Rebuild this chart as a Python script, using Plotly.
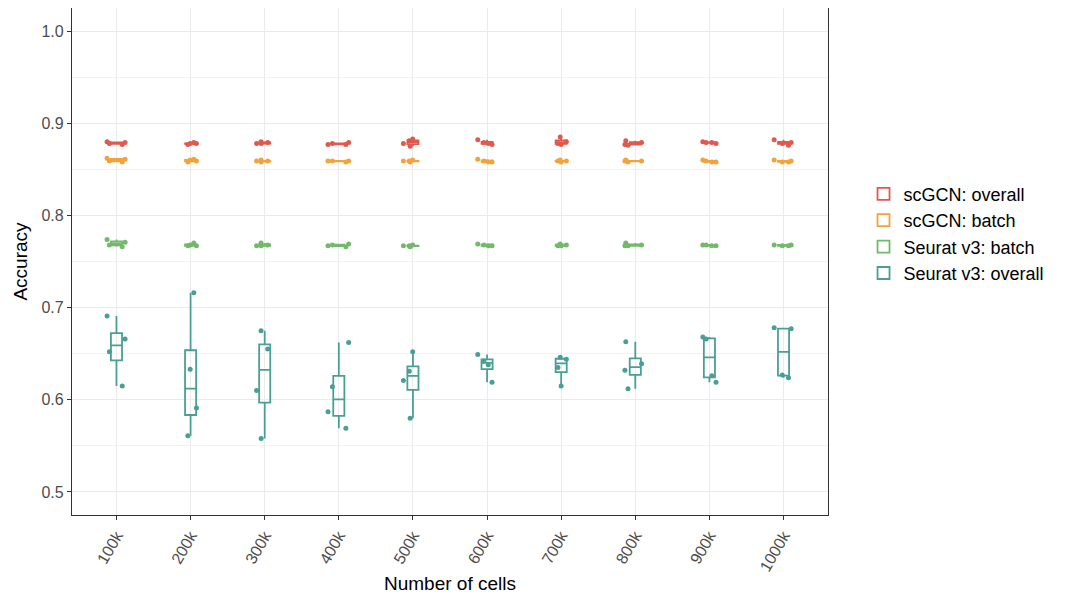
import numpy as np
import plotly.graph_objects as go

categories = ["100k", "200k", "300k", "400k", "500k", "600k", "700k", "800k", "900k", "1000k"]

scgcn_overall = [
    [0.880, 0.879, 0.878, 0.877], [0.878, 0.877, 0.878, 0.879], [0.880, 0.879, 0.878, 0.878],
    [0.879, 0.878, 0.877, 0.877], [0.883, 0.881, 0.878, 0.875], [0.882, 0.879, 0.878, 0.877],
    [0.885, 0.880, 0.878, 0.877], [0.881, 0.879, 0.877, 0.876], [0.880, 0.879, 0.879, 0.878],
    [0.882, 0.879, 0.878, 0.876],
]
scgcn_batch = [
    [0.862, 0.861, 0.859, 0.858], [0.861, 0.860, 0.859, 0.858], [0.860, 0.859, 0.859, 0.858],
    [0.859, 0.859, 0.858, 0.859], [0.860, 0.859, 0.858, 0.859], [0.861, 0.859, 0.858, 0.858],
    [0.860, 0.859, 0.858, 0.859], [0.860, 0.859, 0.859, 0.858], [0.860, 0.859, 0.858, 0.858],
    [0.860, 0.859, 0.858, 0.858],
]
seurat_batch = [
    [0.774, 0.771, 0.768, 0.766], [0.770, 0.768, 0.767, 0.767], [0.770, 0.768, 0.767, 0.767],
    [0.769, 0.768, 0.767, 0.766], [0.768, 0.767, 0.766, 0.767], [0.769, 0.768, 0.767, 0.767],
    [0.769, 0.768, 0.767, 0.767], [0.770, 0.768, 0.767, 0.767], [0.768, 0.767, 0.768, 0.767],
    [0.768, 0.768, 0.767, 0.767],
]
seurat_overall = [
    [0.691, 0.666, 0.652, 0.615], [0.716, 0.633, 0.591, 0.561], [0.675, 0.655, 0.610, 0.558],
    [0.662, 0.614, 0.587, 0.569], [0.652, 0.631, 0.621, 0.580], [0.649, 0.642, 0.638, 0.619],
    [0.646, 0.644, 0.635, 0.615], [0.663, 0.639, 0.632, 0.612], [0.668, 0.666, 0.626, 0.619],
    [0.678, 0.677, 0.627, 0.624],
]

series = [
    ("scGCN: overall", scgcn_overall, "#E0594F"),
    ("scGCN: batch", scgcn_batch, "#F2A33B"),
    ("Seurat v3: batch", seurat_batch, "#73B96B"),
    ("Seurat v3: overall", seurat_overall, "#4A9F95"),
]


def stats(vals):
    v = np.sort(np.asarray(vals, dtype=float))
    q1, med, q3 = np.percentile(v, [25, 50, 75])
    iqr = q3 - q1
    lo = v[v >= q1 - 1.5 * iqr].min()
    hi = v[v <= q3 + 1.5 * iqr].max()
    return q1, med, q3, lo, hi


fig = go.Figure()
for name, data, color in series:
    st = [stats(d) for d in data]
    fig.add_trace(go.Box(
        name=name, x=categories,
        q1=[s[0] for s in st], median=[s[1] for s in st], q3=[s[2] for s in st],
        lowerfence=[s[3] for s in st], upperfence=[s[4] for s in st],
        line=dict(color=color, width=1.8), fillcolor="rgba(255,255,255,0)",
        width=0.15, whiskerwidth=0, boxpoints=False, legendgroup=name,
    ))
for name, data, color in series:
    xs, ys = [], []
    for c, d in zip(categories, data):
        xs += [c] * len(d)
        ys += list(d)
    fig.add_trace(go.Box(
        name=name, x=xs, y=ys, boxpoints="all", jitter=1, pointpos=0,
        width=0.3, line=dict(color="rgba(0,0,0,0)", width=0),
        fillcolor="rgba(0,0,0,0)", marker=dict(color=color, size=5),
        showlegend=False, legendgroup=name, hoverinfo="y",
    ))

fig.update_layout(
    width=1069, height=587, boxmode="overlay",
    paper_bgcolor="white", plot_bgcolor="white",
    margin=dict(l=64, r=249, t=0, b=80),
    font=dict(family="Liberation Sans, Arial, sans-serif", color="#000000"),
    legend=dict(x=1.047, y=0.555, yanchor="middle", xanchor="left",
                font=dict(size=18, color="#000000"), tracegroupgap=0,
                itemwidth=30, bgcolor="rgba(0,0,0,0)"),
    showlegend=True,
)
fig.update_xaxes(
    type="category", categoryorder="array", categoryarray=categories,
    range=[-0.6, 9.6], tickangle=-60,
    tickfont=dict(size=16, color="#4D4D4D"),
    ticks="outside", ticklen=4, tickcolor="#333333", tickwidth=1.2,
    showgrid=True, gridcolor="#EBEBEB", gridwidth=1.2,
    showline=True, linecolor="#333333", linewidth=1.2, mirror=True,
    zeroline=False,
    title=dict(text="Number of cells", font=dict(size=19, color="#000000"), standoff=3),
)
fig.update_yaxes(
    range=[0.475, 1.025], tickvals=[0.5, 0.6, 0.7, 0.8, 0.9, 1.0],
    ticktext=["0.5", "0.6", "0.7", "0.8", "0.9", "1.0"],
    tickfont=dict(size=16, color="#4D4D4D"),
    ticks="outside", ticklen=4, tickcolor="#333333", tickwidth=1.2,
    showgrid=True, gridcolor="#EBEBEB", gridwidth=1.2,
    minor=dict(tickvals=[0.55, 0.65, 0.75, 0.85, 0.95], showgrid=True,
               gridcolor="#F2F2F2", gridwidth=0.8, ticks=""),
    showline=True, linecolor="#333333", linewidth=1.2, mirror=True,
    zeroline=False,
    title=dict(text="Accuracy", font=dict(size=19, color="#000000"), standoff=8),
)

fig.write_html("out.html")
